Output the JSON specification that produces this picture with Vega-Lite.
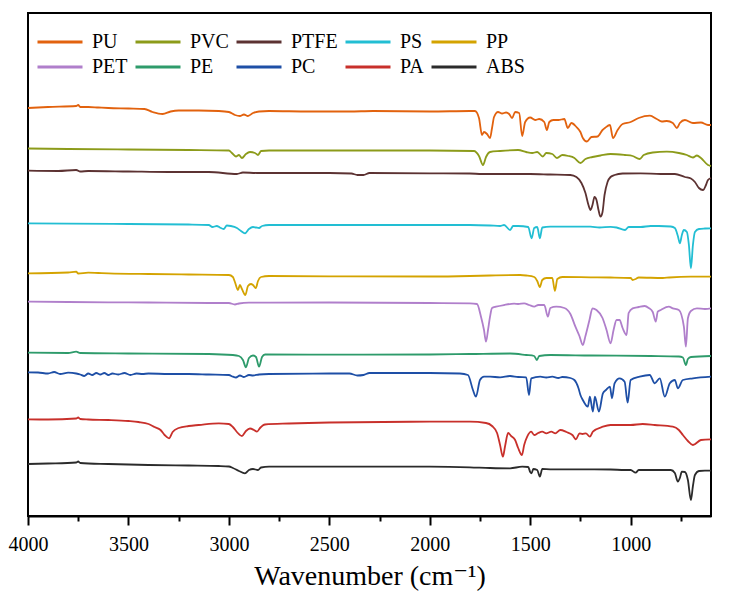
{
  "$schema": "https://vega.github.io/schema/vega-lite/v6.json",
  "width": 683,
  "height": 503,
  "autosize": "none",
  "padding": {"left": 28, "top": 13, "right": 35, "bottom": 87},
  "background": "white",
  "config": {
    "view": {"stroke": "black", "strokeWidth": 2},
    "font": "Liberation Serif, Times New Roman, DejaVu Serif, serif"
  },
  "data": {"values": [
    {"s":"PU","w":4000,"t":408},{"s":"PU","w":3900,"t":409},{"s":"PU","w":3760,"t":410},{"s":"PU","w":3750,"t":411},{"s":"PU","w":3740,"t":409},{"s":"PU","w":3700,"t":409},{"s":"PU","w":3650,"t":408.5},{"s":"PU","w":3600,"t":408},{"s":"PU","w":3500,"t":407.5},{"s":"PU","w":3420,"t":407},{"s":"PU","w":3380,"t":404},{"s":"PU","w":3330,"t":402},{"s":"PU","w":3290,"t":404.5},{"s":"PU","w":3250,"t":405.5},{"s":"PU","w":3150,"t":405.5},{"s":"PU","w":3050,"t":405},{"s":"PU","w":3000,"t":404},{"s":"PU","w":2970,"t":401},{"s":"PU","w":2945,"t":400},{"s":"PU","w":2925,"t":401.5},{"s":"PU","w":2905,"t":400},{"s":"PU","w":2880,"t":403},{"s":"PU","w":2850,"t":404.5},{"s":"PU","w":2800,"t":405},{"s":"PU","w":2600,"t":404.5},{"s":"PU","w":2400,"t":404.5},{"s":"PU","w":2283,"t":405},{"s":"PU","w":2000,"t":404.5},{"s":"PU","w":1800,"t":405},{"s":"PU","w":1775,"t":405},{"s":"PU","w":1755,"t":398},{"s":"PU","w":1740,"t":381},{"s":"PU","w":1730,"t":384},{"s":"PU","w":1715,"t":382},{"s":"PU","w":1700,"t":378},{"s":"PU","w":1690,"t":388},{"s":"PU","w":1680,"t":399},{"s":"PU","w":1660,"t":404},{"s":"PU","w":1640,"t":402.5},{"s":"PU","w":1620,"t":403.5},{"s":"PU","w":1605,"t":402},{"s":"PU","w":1590,"t":398},{"s":"PU","w":1575,"t":404},{"s":"PU","w":1555,"t":403},{"s":"PU","w":1540,"t":380},{"s":"PU","w":1525,"t":394},{"s":"PU","w":1500,"t":398.5},{"s":"PU","w":1475,"t":396},{"s":"PU","w":1455,"t":397},{"s":"PU","w":1430,"t":394},{"s":"PU","w":1417,"t":386},{"s":"PU","w":1405,"t":394},{"s":"PU","w":1385,"t":396},{"s":"PU","w":1360,"t":396},{"s":"PU","w":1330,"t":397},{"s":"PU","w":1313,"t":388},{"s":"PU","w":1295,"t":393},{"s":"PU","w":1270,"t":389},{"s":"PU","w":1250,"t":384},{"s":"PU","w":1238,"t":378},{"s":"PU","w":1218,"t":374.5},{"s":"PU","w":1195,"t":379},{"s":"PU","w":1165,"t":379.5},{"s":"PU","w":1140,"t":386},{"s":"PU","w":1128,"t":388},{"s":"PU","w":1103,"t":391},{"s":"PU","w":1088,"t":378},{"s":"PU","w":1065,"t":386},{"s":"PU","w":1040,"t":392},{"s":"PU","w":1000,"t":394},{"s":"PU","w":960,"t":398},{"s":"PU","w":904,"t":400.3},{"s":"PU","w":870,"t":397},{"s":"PU","w":845,"t":394.5},{"s":"PU","w":820,"t":395},{"s":"PU","w":790,"t":393},{"s":"PU","w":770,"t":388},{"s":"PU","w":755,"t":393},{"s":"PU","w":730,"t":396},{"s":"PU","w":690,"t":393},{"s":"PU","w":650,"t":393.5},{"s":"PU","w":615,"t":391},{"s":"PU","w":600,"t":391},

    {"s":"PVC","w":4000,"t":367.5},{"s":"PVC","w":3800,"t":367},{"s":"PVC","w":3500,"t":366.5},{"s":"PVC","w":3200,"t":366},{"s":"PVC","w":3000,"t":365.5},{"s":"PVC","w":2985,"t":363},{"s":"PVC","w":2965,"t":359.5},{"s":"PVC","w":2950,"t":361},{"s":"PVC","w":2935,"t":358},{"s":"PVC","w":2915,"t":362},{"s":"PVC","w":2895,"t":364},{"s":"PVC","w":2870,"t":363},{"s":"PVC","w":2855,"t":361},{"s":"PVC","w":2840,"t":365},{"s":"PVC","w":2800,"t":365.5},{"s":"PVC","w":2500,"t":365.5},{"s":"PVC","w":2000,"t":365.5},{"s":"PVC","w":1780,"t":365},{"s":"PVC","w":1755,"t":360},{"s":"PVC","w":1735,"t":351},{"s":"PVC","w":1720,"t":359},{"s":"PVC","w":1700,"t":364},{"s":"PVC","w":1650,"t":365},{"s":"PVC","w":1560,"t":366},{"s":"PVC","w":1520,"t":364},{"s":"PVC","w":1490,"t":363},{"s":"PVC","w":1465,"t":364},{"s":"PVC","w":1437,"t":359.5},{"s":"PVC","w":1420,"t":363},{"s":"PVC","w":1390,"t":362},{"s":"PVC","w":1367,"t":358},{"s":"PVC","w":1340,"t":361},{"s":"PVC","w":1310,"t":360},{"s":"PVC","w":1280,"t":358},{"s":"PVC","w":1250,"t":353},{"s":"PVC","w":1225,"t":357},{"s":"PVC","w":1190,"t":359},{"s":"PVC","w":1150,"t":360.5},{"s":"PVC","w":1100,"t":362},{"s":"PVC","w":1030,"t":361},{"s":"PVC","w":990,"t":360},{"s":"PVC","w":955,"t":357},{"s":"PVC","w":935,"t":361},{"s":"PVC","w":890,"t":363.5},{"s":"PVC","w":820,"t":364.3},{"s":"PVC","w":760,"t":363},{"s":"PVC","w":720,"t":361},{"s":"PVC","w":690,"t":358.5},{"s":"PVC","w":670,"t":360.5},{"s":"PVC","w":650,"t":358},{"s":"PVC","w":615,"t":351},{"s":"PVC","w":600,"t":350},

    {"s":"PTFE","w":4000,"t":345.3},{"s":"PTFE","w":3850,"t":345},{"s":"PTFE","w":3760,"t":346},{"s":"PTFE","w":3740,"t":344.5},{"s":"PTFE","w":3700,"t":345},{"s":"PTFE","w":3500,"t":344.5},{"s":"PTFE","w":3300,"t":344},{"s":"PTFE","w":3100,"t":344},{"s":"PTFE","w":2960,"t":342},{"s":"PTFE","w":2930,"t":343.5},{"s":"PTFE","w":2860,"t":343},{"s":"PTFE","w":2700,"t":343},{"s":"PTFE","w":2500,"t":343},{"s":"PTFE","w":2390,"t":342.5},{"s":"PTFE","w":2360,"t":341},{"s":"PTFE","w":2330,"t":341},{"s":"PTFE","w":2300,"t":343},{"s":"PTFE","w":2000,"t":342.7},{"s":"PTFE","w":1800,"t":342.5},{"s":"PTFE","w":1740,"t":342},{"s":"PTFE","w":1500,"t":342},{"s":"PTFE","w":1400,"t":341.5},{"s":"PTFE","w":1300,"t":341},{"s":"PTFE","w":1270,"t":339},{"s":"PTFE","w":1245,"t":333},{"s":"PTFE","w":1225,"t":323},{"s":"PTFE","w":1210,"t":311},{"s":"PTFE","w":1200,"t":306},{"s":"PTFE","w":1190,"t":311},{"s":"PTFE","w":1180,"t":319},{"s":"PTFE","w":1170,"t":316},{"s":"PTFE","w":1160,"t":306},{"s":"PTFE","w":1150,"t":299.3},{"s":"PTFE","w":1140,"t":304},{"s":"PTFE","w":1130,"t":321},{"s":"PTFE","w":1115,"t":334},{"s":"PTFE","w":1100,"t":339},{"s":"PTFE","w":1080,"t":341},{"s":"PTFE","w":1040,"t":342.5},{"s":"PTFE","w":950,"t":342.7},{"s":"PTFE","w":850,"t":342},{"s":"PTFE","w":780,"t":342},{"s":"PTFE","w":730,"t":339},{"s":"PTFE","w":700,"t":337.5},{"s":"PTFE","w":680,"t":334},{"s":"PTFE","w":660,"t":328},{"s":"PTFE","w":640,"t":326},{"s":"PTFE","w":625,"t":331},{"s":"PTFE","w":615,"t":336},{"s":"PTFE","w":600,"t":338},

    {"s":"PS","w":4000,"t":292.7},{"s":"PS","w":3800,"t":292.3},{"s":"PS","w":3500,"t":292},{"s":"PS","w":3200,"t":291.5},{"s":"PS","w":3100,"t":291},{"s":"PS","w":3082,"t":289},{"s":"PS","w":3060,"t":290},{"s":"PS","w":3045,"t":288.5},{"s":"PS","w":3026,"t":287},{"s":"PS","w":3010,"t":290.5},{"s":"PS","w":2990,"t":290},{"s":"PS","w":2960,"t":288},{"s":"PS","w":2940,"t":285},{"s":"PS","w":2920,"t":282.7},{"s":"PS","w":2900,"t":287},{"s":"PS","w":2880,"t":289},{"s":"PS","w":2865,"t":288.5},{"s":"PS","w":2850,"t":288},{"s":"PS","w":2835,"t":290},{"s":"PS","w":2800,"t":291},{"s":"PS","w":2500,"t":291},{"s":"PS","w":2000,"t":291},{"s":"PS","w":1800,"t":291},{"s":"PS","w":1700,"t":290.5},{"s":"PS","w":1650,"t":290},{"s":"PS","w":1630,"t":291},{"s":"PS","w":1600,"t":286},{"s":"PS","w":1585,"t":290},{"s":"PS","w":1560,"t":290},{"s":"PS","w":1510,"t":289},{"s":"PS","w":1493,"t":277.7},{"s":"PS","w":1480,"t":288},{"s":"PS","w":1465,"t":289},{"s":"PS","w":1452,"t":277.7},{"s":"PS","w":1440,"t":288.5},{"s":"PS","w":1400,"t":289.3},{"s":"PS","w":1300,"t":289.3},{"s":"PS","w":1200,"t":289.3},{"s":"PS","w":1155,"t":288.5},{"s":"PS","w":1100,"t":289.2},{"s":"PS","w":1070,"t":288.5},{"s":"PS","w":1028,"t":286},{"s":"PS","w":1010,"t":289},{"s":"PS","w":950,"t":289},{"s":"PS","w":900,"t":290},{"s":"PS","w":860,"t":290},{"s":"PS","w":800,"t":289.5},{"s":"PS","w":780,"t":288},{"s":"PS","w":765,"t":280},{"s":"PS","w":755,"t":272.7},{"s":"PS","w":745,"t":281},{"s":"PS","w":735,"t":286},{"s":"PS","w":720,"t":284},{"s":"PS","w":710,"t":271},{"s":"PS","w":700,"t":247.7},{"s":"PS","w":690,"t":271},{"s":"PS","w":680,"t":284},{"s":"PS","w":660,"t":287},{"s":"PS","w":630,"t":287.5},{"s":"PS","w":600,"t":287.7},

    {"s":"PP","w":4000,"t":242.7},{"s":"PP","w":3800,"t":243.5},{"s":"PP","w":3760,"t":244.3},{"s":"PP","w":3750,"t":242.5},{"s":"PP","w":3700,"t":243.3},{"s":"PP","w":3650,"t":243},{"s":"PP","w":3600,"t":242.7},{"s":"PP","w":3400,"t":242},{"s":"PP","w":3200,"t":241.5},{"s":"PP","w":3000,"t":241},{"s":"PP","w":2980,"t":239},{"s":"PP","w":2970,"t":234},{"s":"PP","w":2955,"t":226},{"s":"PP","w":2945,"t":231},{"s":"PP","w":2935,"t":227},{"s":"PP","w":2918,"t":221},{"s":"PP","w":2905,"t":230},{"s":"PP","w":2890,"t":232},{"s":"PP","w":2880,"t":231},{"s":"PP","w":2866,"t":228},{"s":"PP","w":2855,"t":235},{"s":"PP","w":2840,"t":239},{"s":"PP","w":2800,"t":240},{"s":"PP","w":2500,"t":239.7},{"s":"PP","w":2000,"t":239.5},{"s":"PP","w":1800,"t":240},{"s":"PP","w":1700,"t":240.5},{"s":"PP","w":1550,"t":241},{"s":"PP","w":1520,"t":240.5},{"s":"PP","w":1480,"t":239},{"s":"PP","w":1465,"t":235},{"s":"PP","w":1452,"t":229},{"s":"PP","w":1440,"t":236},{"s":"PP","w":1420,"t":238},{"s":"PP","w":1390,"t":238},{"s":"PP","w":1377,"t":225},{"s":"PP","w":1365,"t":237},{"s":"PP","w":1340,"t":239},{"s":"PP","w":1200,"t":238.7},{"s":"PP","w":1100,"t":238.5},{"s":"PP","w":1000,"t":238},{"s":"PP","w":990,"t":236},{"s":"PP","w":975,"t":237},{"s":"PP","w":960,"t":238.5},{"s":"PP","w":840,"t":238},{"s":"PP","w":808,"t":238.5},{"s":"PP","w":700,"t":239.3},{"s":"PP","w":600,"t":239.3},

    {"s":"PET","w":4000,"t":214.3},{"s":"PET","w":3800,"t":214},{"s":"PET","w":3600,"t":213.7},{"s":"PET","w":3400,"t":213.5},{"s":"PET","w":3100,"t":213},{"s":"PET","w":3000,"t":213},{"s":"PET","w":2970,"t":211.5},{"s":"PET","w":2950,"t":212.5},{"s":"PET","w":2900,"t":213.3},{"s":"PET","w":2500,"t":213.5},{"s":"PET","w":2000,"t":213},{"s":"PET","w":1800,"t":212.7},{"s":"PET","w":1765,"t":212},{"s":"PET","w":1745,"t":199.3},{"s":"PET","w":1730,"t":186},{"s":"PET","w":1720,"t":174.3},{"s":"PET","w":1710,"t":186},{"s":"PET","w":1700,"t":199.3},{"s":"PET","w":1690,"t":208},{"s":"PET","w":1670,"t":209.3},{"s":"PET","w":1630,"t":211},{"s":"PET","w":1580,"t":212.3},{"s":"PET","w":1560,"t":212},{"s":"PET","w":1530,"t":212.7},{"s":"PET","w":1505,"t":211},{"s":"PET","w":1480,"t":209.3},{"s":"PET","w":1460,"t":211},{"s":"PET","w":1430,"t":211},{"s":"PET","w":1412,"t":199.3},{"s":"PET","w":1400,"t":208},{"s":"PET","w":1370,"t":209.3},{"s":"PET","w":1330,"t":208},{"s":"PET","w":1300,"t":202},{"s":"PET","w":1275,"t":189.3},{"s":"PET","w":1255,"t":180},{"s":"PET","w":1238,"t":171},{"s":"PET","w":1225,"t":180},{"s":"PET","w":1205,"t":196},{"s":"PET","w":1190,"t":207.7},{"s":"PET","w":1170,"t":206},{"s":"PET","w":1140,"t":198},{"s":"PET","w":1120,"t":186},{"s":"PET","w":1100,"t":172.7},{"s":"PET","w":1085,"t":186},{"s":"PET","w":1070,"t":196},{"s":"PET","w":1055,"t":196},{"s":"PET","w":1040,"t":188},{"s":"PET","w":1020,"t":181},{"s":"PET","w":1010,"t":203},{"s":"PET","w":990,"t":207.7},{"s":"PET","w":960,"t":209},{"s":"PET","w":930,"t":210},{"s":"PET","w":910,"t":208},{"s":"PET","w":890,"t":204},{"s":"PET","w":875,"t":194.3},{"s":"PET","w":865,"t":204.3},{"s":"PET","w":850,"t":206},{"s":"PET","w":810,"t":209.3},{"s":"PET","w":790,"t":207.7},{"s":"PET","w":760,"t":206},{"s":"PET","w":735,"t":189.3},{"s":"PET","w":725,"t":169.3},{"s":"PET","w":715,"t":197.7},{"s":"PET","w":700,"t":205},{"s":"PET","w":670,"t":207.7},{"s":"PET","w":630,"t":207},{"s":"PET","w":600,"t":207.7},

    {"s":"PE","w":4000,"t":163.3},{"s":"PE","w":3800,"t":163},{"s":"PE","w":3760,"t":164.3},{"s":"PE","w":3740,"t":163},{"s":"PE","w":3500,"t":162.5},{"s":"PE","w":3100,"t":162},{"s":"PE","w":2980,"t":161},{"s":"PE","w":2950,"t":160},{"s":"PE","w":2930,"t":156},{"s":"PE","w":2915,"t":148.7},{"s":"PE","w":2900,"t":158},{"s":"PE","w":2880,"t":160.5},{"s":"PE","w":2865,"t":159},{"s":"PE","w":2850,"t":149.3},{"s":"PE","w":2835,"t":159},{"s":"PE","w":2820,"t":161.5},{"s":"PE","w":2600,"t":161.3},{"s":"PE","w":2000,"t":161.5},{"s":"PE","w":1800,"t":162},{"s":"PE","w":1600,"t":162.5},{"s":"PE","w":1520,"t":161},{"s":"PE","w":1480,"t":160},{"s":"PE","w":1467,"t":156},{"s":"PE","w":1455,"t":160},{"s":"PE","w":1400,"t":161},{"s":"PE","w":1200,"t":160.5},{"s":"PE","w":900,"t":160},{"s":"PE","w":760,"t":159.5},{"s":"PE","w":740,"t":158.5},{"s":"PE","w":725,"t":151},{"s":"PE","w":715,"t":157},{"s":"PE","w":700,"t":159},{"s":"PE","w":600,"t":160},

    {"s":"PC","w":4000,"t":143.7},{"s":"PC","w":3950,"t":143.5},{"s":"PC","w":3900,"t":142.5},{"s":"PC","w":3870,"t":144},{"s":"PC","w":3840,"t":142},{"s":"PC","w":3800,"t":143.3},{"s":"PC","w":3760,"t":142.5},{"s":"PC","w":3740,"t":141.5},{"s":"PC","w":3720,"t":140},{"s":"PC","w":3700,"t":142.5},{"s":"PC","w":3680,"t":141},{"s":"PC","w":3660,"t":143},{"s":"PC","w":3640,"t":141.5},{"s":"PC","w":3620,"t":143},{"s":"PC","w":3600,"t":141},{"s":"PC","w":3580,"t":142.5},{"s":"PC","w":3550,"t":141.5},{"s":"PC","w":3520,"t":143},{"s":"PC","w":3490,"t":141},{"s":"PC","w":3460,"t":142.5},{"s":"PC","w":3430,"t":142},{"s":"PC","w":3400,"t":142.5},{"s":"PC","w":3300,"t":142},{"s":"PC","w":3200,"t":142},{"s":"PC","w":3100,"t":141.5},{"s":"PC","w":3000,"t":141},{"s":"PC","w":2980,"t":139.3},{"s":"PC","w":2965,"t":138.5},{"s":"PC","w":2945,"t":140.5},{"s":"PC","w":2925,"t":139},{"s":"PC","w":2900,"t":141},{"s":"PC","w":2880,"t":140.5},{"s":"PC","w":2850,"t":141.5},{"s":"PC","w":2800,"t":142},{"s":"PC","w":2500,"t":142.5},{"s":"PC","w":2400,"t":142.5},{"s":"PC","w":2360,"t":140.5},{"s":"PC","w":2330,"t":141},{"s":"PC","w":2300,"t":143},{"s":"PC","w":2000,"t":143},{"s":"PC","w":1850,"t":142.5},{"s":"PC","w":1810,"t":141},{"s":"PC","w":1785,"t":126},{"s":"PC","w":1770,"t":119.3},{"s":"PC","w":1750,"t":136},{"s":"PC","w":1730,"t":139.3},{"s":"PC","w":1700,"t":139.3},{"s":"PC","w":1650,"t":138.7},{"s":"PC","w":1600,"t":140},{"s":"PC","w":1560,"t":139},{"s":"PC","w":1520,"t":138.7},{"s":"PC","w":1506,"t":121},{"s":"PC","w":1495,"t":137.7},{"s":"PC","w":1450,"t":139.3},{"s":"PC","w":1420,"t":138.5},{"s":"PC","w":1390,"t":139.3},{"s":"PC","w":1360,"t":138},{"s":"PC","w":1340,"t":139},{"s":"PC","w":1300,"t":138},{"s":"PC","w":1280,"t":136},{"s":"PC","w":1260,"t":128},{"s":"PC","w":1250,"t":121},{"s":"PC","w":1238,"t":116},{"s":"PC","w":1213,"t":109.3},{"s":"PC","w":1203,"t":119.3},{"s":"PC","w":1188,"t":104.3},{"s":"PC","w":1178,"t":119.3},{"s":"PC","w":1158,"t":104.3},{"s":"PC","w":1138,"t":122.7},{"s":"PC","w":1123,"t":126},{"s":"PC","w":1103,"t":129.3},{"s":"PC","w":1093,"t":117.7},{"s":"PC","w":1080,"t":132.7},{"s":"PC","w":1055,"t":137.7},{"s":"PC","w":1030,"t":134.3},{"s":"PC","w":1015,"t":113.3},{"s":"PC","w":1000,"t":136},{"s":"PC","w":955,"t":139.3},{"s":"PC","w":905,"t":141},{"s":"PC","w":880,"t":132.7},{"s":"PC","w":855,"t":137.7},{"s":"PC","w":830,"t":119.3},{"s":"PC","w":805,"t":132.7},{"s":"PC","w":780,"t":136},{"s":"PC","w":765,"t":127.7},{"s":"PC","w":740,"t":136},{"s":"PC","w":690,"t":137.7},{"s":"PC","w":600,"t":139.3},

    {"s":"PA","w":4000,"t":96.7},{"s":"PA","w":3900,"t":96.5},{"s":"PA","w":3760,"t":97.5},{"s":"PA","w":3750,"t":98.5},{"s":"PA","w":3740,"t":97},{"s":"PA","w":3700,"t":96.5},{"s":"PA","w":3600,"t":96},{"s":"PA","w":3500,"t":95},{"s":"PA","w":3450,"t":94},{"s":"PA","w":3400,"t":92},{"s":"PA","w":3370,"t":89},{"s":"PA","w":3340,"t":86},{"s":"PA","w":3320,"t":81},{"s":"PA","w":3298,"t":77.7},{"s":"PA","w":3280,"t":84},{"s":"PA","w":3250,"t":88},{"s":"PA","w":3200,"t":90},{"s":"PA","w":3150,"t":91},{"s":"PA","w":3050,"t":92.7},{"s":"PA","w":3000,"t":92},{"s":"PA","w":2980,"t":89},{"s":"PA","w":2960,"t":84},{"s":"PA","w":2935,"t":80},{"s":"PA","w":2915,"t":85},{"s":"PA","w":2895,"t":87.5},{"s":"PA","w":2875,"t":86},{"s":"PA","w":2860,"t":84.3},{"s":"PA","w":2845,"t":88},{"s":"PA","w":2820,"t":91.5},{"s":"PA","w":2700,"t":92.5},{"s":"PA","w":2500,"t":93.5},{"s":"PA","w":2000,"t":94.3},{"s":"PA","w":1800,"t":94.3},{"s":"PA","w":1720,"t":93},{"s":"PA","w":1690,"t":90},{"s":"PA","w":1665,"t":83},{"s":"PA","w":1650,"t":71},{"s":"PA","w":1636,"t":59.3},{"s":"PA","w":1625,"t":70},{"s":"PA","w":1610,"t":83},{"s":"PA","w":1595,"t":80},{"s":"PA","w":1575,"t":76},{"s":"PA","w":1560,"t":68},{"s":"PA","w":1541,"t":61},{"s":"PA","w":1530,"t":71},{"s":"PA","w":1515,"t":79.3},{"s":"PA","w":1495,"t":84.3},{"s":"PA","w":1480,"t":81},{"s":"PA","w":1460,"t":83},{"s":"PA","w":1440,"t":84.3},{"s":"PA","w":1420,"t":82.7},{"s":"PA","w":1395,"t":84.3},{"s":"PA","w":1375,"t":82.7},{"s":"PA","w":1350,"t":86},{"s":"PA","w":1320,"t":84},{"s":"PA","w":1290,"t":81},{"s":"PA","w":1272,"t":76.7},{"s":"PA","w":1255,"t":82.7},{"s":"PA","w":1240,"t":82},{"s":"PA","w":1223,"t":82.7},{"s":"PA","w":1203,"t":79.3},{"s":"PA","w":1188,"t":84.3},{"s":"PA","w":1138,"t":89.3},{"s":"PA","w":1100,"t":91},{"s":"PA","w":1000,"t":91},{"s":"PA","w":940,"t":92},{"s":"PA","w":880,"t":91},{"s":"PA","w":790,"t":89.3},{"s":"PA","w":760,"t":86},{"s":"PA","w":740,"t":81},{"s":"PA","w":715,"t":75},{"s":"PA","w":690,"t":71},{"s":"PA","w":650,"t":76},{"s":"PA","w":600,"t":76.7},

    {"s":"ABS","w":4000,"t":52},{"s":"ABS","w":3900,"t":52.5},{"s":"ABS","w":3760,"t":53.5},{"s":"ABS","w":3750,"t":54.5},{"s":"ABS","w":3740,"t":53},{"s":"ABS","w":3600,"t":52},{"s":"ABS","w":3400,"t":51},{"s":"ABS","w":3200,"t":50.5},{"s":"ABS","w":3050,"t":50},{"s":"ABS","w":3000,"t":49.5},{"s":"ABS","w":2980,"t":48},{"s":"ABS","w":2950,"t":45},{"s":"ABS","w":2920,"t":42.7},{"s":"ABS","w":2900,"t":46},{"s":"ABS","w":2880,"t":47},{"s":"ABS","w":2855,"t":46},{"s":"ABS","w":2840,"t":48.5},{"s":"ABS","w":2800,"t":49.3},{"s":"ABS","w":2500,"t":49.3},{"s":"ABS","w":2000,"t":49.3},{"s":"ABS","w":1800,"t":48.7},{"s":"ABS","w":1700,"t":48},{"s":"ABS","w":1600,"t":47.7},{"s":"ABS","w":1540,"t":49.3},{"s":"ABS","w":1510,"t":49},{"s":"ABS","w":1500,"t":44},{"s":"ABS","w":1493,"t":42.7},{"s":"ABS","w":1485,"t":47},{"s":"ABS","w":1465,"t":46},{"s":"ABS","w":1452,"t":39.3},{"s":"ABS","w":1440,"t":47},{"s":"ABS","w":1400,"t":46.7},{"s":"ABS","w":1300,"t":46.7},{"s":"ABS","w":1100,"t":46.5},{"s":"ABS","w":1030,"t":46},{"s":"ABS","w":1000,"t":46},{"s":"ABS","w":975,"t":43.3},{"s":"ABS","w":960,"t":46},{"s":"ABS","w":800,"t":46},{"s":"ABS","w":780,"t":43},{"s":"ABS","w":765,"t":34.3},{"s":"ABS","w":755,"t":38},{"s":"ABS","w":745,"t":44.3},{"s":"ABS","w":730,"t":44},{"s":"ABS","w":715,"t":36},{"s":"ABS","w":700,"t":16},{"s":"ABS","w":690,"t":30},{"s":"ABS","w":680,"t":41},{"s":"ABS","w":660,"t":45},{"s":"ABS","w":630,"t":45.3},{"s":"ABS","w":600,"t":45.3}
  ]},
  "mark": {"type": "line", "strokeWidth": 1.8, "interpolate": "monotone"},
  "encoding": {
    "x": {
      "field": "w",
      "type": "quantitative",
      "scale": {"domain": [4000, 600], "nice": false, "zero": false},
      "axis": {
        "title": "Wavenumber (cm⁻¹)",
        "values": [4000, 3750, 3500, 3250, 3000, 2750, 2500, 2250, 2000, 1750, 1500, 1250, 1000, 750],
        "format": "d",
        "labelExpr": "datum.value % 500 === 0 ? datum.label : ''",
        "grid": false,
        "domainColor": "black",
        "domainWidth": 2,
        "tickColor": "black",
        "tickWidth": 2,
        "tickSize": {"condition": {"test": "datum.value % 500 === 0", "value": 9}, "value": 5},
        "labelFont": "Liberation Serif, Times New Roman, DejaVu Serif, serif",
        "labelFontSize": 20,
        "labelColor": "black",
        "labelPadding": 9,
        "labelFlush": false,
        "labelOverlap": false,
        "titleFont": "Liberation Serif, Times New Roman, DejaVu Serif, serif",
        "titleFontSize": 28,
        "titleFontWeight": "normal",
        "titleColor": "black",
        "titlePadding": 8
      }
    },
    "y": {
      "field": "t",
      "type": "quantitative",
      "scale": {"domain": [0, 503], "nice": false, "zero": false},
      "axis": null
    },
    "color": {
      "field": "s",
      "type": "nominal",
      "scale": {
        "domain": ["PU", "PVC", "PTFE", "PS", "PP", "PET", "PE", "PC", "PA", "ABS"],
        "range": ["#E2620E", "#8C9B1A", "#5C3232", "#22BED3", "#D4A300", "#B07FCB", "#2E9B6B", "#1E4FA6", "#C8302B", "#2B2B2B"]
      },
      "legend": {
        "title": null,
        "orient": "none",
        "legendX": 4,
        "legendY": 19,
        "direction": "horizontal",
        "columns": 5,
        "padding": 0,
        "symbolType": "M-1,0H9",
        "symbolSize": 81,
        "symbolStrokeWidth": 3,
        "labelOffset": 40,
        "columnPadding": 1,
        "rowPadding": 5,
        "labelFont": "Liberation Serif, Times New Roman, DejaVu Serif, serif",
        "labelFontSize": 20,
        "labelColor": "black",
        "labelLimit": 200
      }
    }
  }
}
